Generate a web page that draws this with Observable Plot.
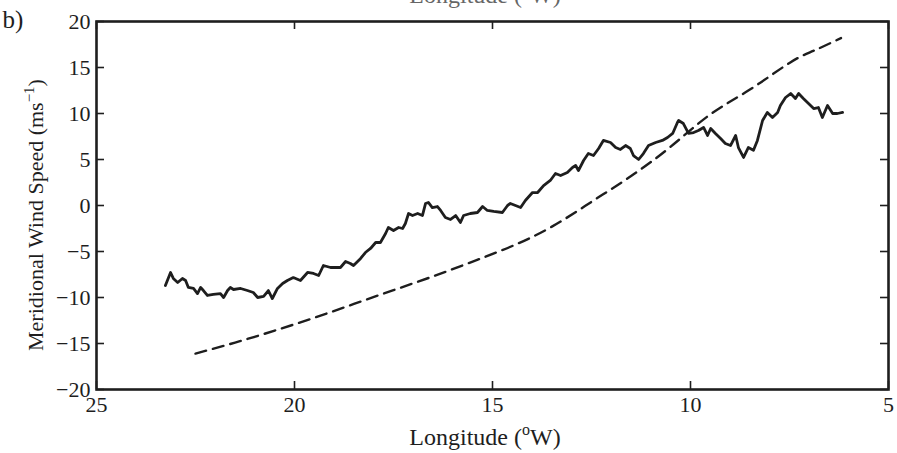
<!DOCTYPE html>
<html>
<head>
<meta charset="utf-8">
<script src="https://cdn.jsdelivr.net/npm/d3@7"></script>
<script src="https://cdn.jsdelivr.net/npm/@observablehq/plot@0.6"></script>
<style>
  html, body { margin: 0; padding: 0; background: #fff; overflow: hidden; }
  #chart svg { display: block; }
</style>
</head>
<body>
<div id="chart"></div>
<script>
// Observed meridional wind (solid line): longitude (°W) and wind speed (m/s)
const solidLon = [23.26,23.13,23.06,22.95,22.83,22.75,22.68,22.55,22.45,22.37,22.30,22.20,22.05,21.87,21.79,21.69,21.62,21.54,21.36,21.19,21.04,20.93,20.78,20.66,20.56,20.43,20.30,20.18,20.03,19.85,19.67,19.52,19.39,19.27,19.09,18.84,
  18.71,18.59,18.51,18.33,18.21,18.08,17.95,17.83,17.70,17.63,17.50,17.37,17.27,17.20,17.12,17.02,16.89,16.77,16.69,16.62,16.52,16.39,16.31,16.19,16.06,15.93,15.81,15.73,15.56,15.38,15.25,15.13,14.97,14.75,14.62,
  14.55,14.29,14.17,13.99,13.86,13.71,13.54,13.41,13.28,13.11,12.98,12.90,12.83,12.70,12.58,12.45,12.32,12.20,12.02,11.89,11.77,11.64,11.52,11.44,11.31,11.19,11.06,10.88,10.71,10.58,10.45,10.33,
  10.30,10.18,10.05,9.92,9.80,9.67,9.57,9.49,9.37,9.24,9.12,8.99,8.86,8.79,8.66,8.54,8.41,8.31,8.18,8.06,7.93,7.80,7.73,7.60,7.47,7.35,7.27,7.15,7.02,6.89,6.77,6.67,6.54,6.41,6.29,6.16];
const solidWind = [-8.70,-7.28,-7.93,-8.37,-7.93,-8.15,-8.91,-9.02,-9.57,-8.91,-9.24,-9.78,-9.67,-9.57,-10.0,-9.24,-8.91,-9.13,-9.02,-9.24,-9.46,-10.0,-9.89,-9.24,-10.11,-9.02,-8.48,-8.15,-7.83,-8.15,-7.28,-7.39,-7.61,-6.52,-6.74,-6.74,
  -6.09,-6.30,-6.52,-5.76,-5.11,-4.67,-4.02,-4.02,-3.04,-2.39,-2.72,-2.39,-2.50,-1.96,-0.87,-1.09,-0.87,-1.09,0.22,0.33,-0.22,-0.11,-0.54,-1.30,-1.52,-1.09,-1.85,-1.09,-0.87,-0.76,-0.11,-0.54,-0.65,-0.76,0.0,
  0.22,-0.22,0.54,1.41,1.41,2.17,2.72,3.48,3.26,3.59,4.13,4.35,3.80,4.89,5.65,5.43,6.20,7.07,6.85,6.30,6.09,6.52,6.20,5.43,5.0,5.65,6.52,6.85,7.07,7.39,7.83,9.02,
  9.24,8.91,7.83,7.93,8.15,8.48,7.61,8.37,7.83,7.28,6.74,6.52,7.61,6.30,5.22,6.30,6.0,7.07,9.24,10.11,9.57,10.11,10.87,11.74,12.17,11.63,12.17,11.63,11.09,10.54,10.65,9.57,10.87,10.0,10.0,10.11];

// Model meridional wind (dashed line)
const dashLon  = [22.5, 21.5, 20.5, 19.5, 18.5, 17.5, 16.5, 15.5, 14.5, 13.5, 12.5, 11.5, 10.5, 9.5, 8.5, 7.5, 6.9, 6.2];
const dashWind = [-16.1, -14.9, -13.6, -12.2, -10.7, -9.2, -7.7, -6.1, -4.4, -2.3, 0.4, 3.2, 6.4, 9.9, 12.6, 15.5, 16.8, 18.2];

const xTicks = [25, 20, 15, 10, 5];
const yTicks = [-20, -15, -10, -5, 0, 5, 10, 15, 20];

const solid = solidLon.map((lon, i) => ({lon, v: solidWind[i]}));
const dashed = dashLon.map((lon, i) => ({lon, v: dashWind[i]}));

const W = 897, H = 453;
const mL = 96, mR = 9, mT = 21, mB = 64;
const fw = W - mL - mR, fh = H - mT - mB;
const tk = 8;
const ink = "#1e1e1e";
const ff = "'Liberation Serif', 'DejaVu Serif', serif";

const plot = Plot.plot({
  width: W,
  height: H,
  marginLeft: mL, marginRight: mR, marginTop: mT, marginBottom: mB,
  style: {fontFamily: ff, fontSize: "22px", color: ink, background: "#fff"},
  x: {domain: [25, 5], label: null},
  y: {domain: [-20, 20], label: null},
  marks: [
    Plot.line(dashed, {x: "lon", y: "v", curve: "natural", stroke: ink, strokeWidth: 2.4, strokeDasharray: "11,7"}),
    Plot.line(solid, {x: "lon", y: "v", stroke: ink, strokeWidth: 2.8, strokeLinejoin: "round"}),
    // inward ticks on all four sides
    Plot.tickX(xTicks, {x: d => d, insetTop: fh - tk, stroke: ink, strokeWidth: 1.6}),
    Plot.tickX(xTicks, {x: d => d, insetBottom: fh - tk, stroke: ink, strokeWidth: 1.6}),
    Plot.tickY(yTicks, {y: d => d, insetRight: fw - tk, stroke: ink, strokeWidth: 1.6}),
    Plot.tickY(yTicks, {y: d => d, insetLeft: fw - tk, stroke: ink, strokeWidth: 1.6}),
    Plot.axisX(xTicks, {tickSize: 0, tickPadding: 7, fontSize: 22, label: null, fill: ink}),
    Plot.axisY(yTicks, {tickSize: 0, tickPadding: 6, fontSize: 22, label: null, fill: ink}),
    Plot.frame({stroke: ink, strokeWidth: 2.6})
  ]
});

document.getElementById("chart").appendChild(plot);

// Axis titles with superscripts, and panel label
const svg = d3.select(plot);

function xTitle(y) {
  const t = svg.append("text")
    .attr("x", 485).attr("y", y)
    .attr("text-anchor", "middle")
    .attr("font-family", ff).attr("font-size", 24).attr("fill", ink);
  t.append("tspan").text("Longitude (");
  t.append("tspan").attr("dy", -10).attr("font-size", 16).text("o");
  t.append("tspan").attr("dy", 10).text("W)");
  return t;
}
xTitle(445);
xTitle(3).attr("fill", "#666");

const yt = svg.append("text")
  .attr("transform", `translate(${43},${mT + fh / 2 + 10}) rotate(-90)`)
  .attr("text-anchor", "middle")
  .attr("font-family", ff).attr("font-size", 22).attr("fill", ink);
yt.append("tspan").text("Meridional Wind Speed (ms");
yt.append("tspan").attr("dy", -9).attr("font-size", 15).text("\u22121");
yt.append("tspan").attr("dy", 9).text(")");

svg.append("text")
  .attr("x", 13).attr("y", 28)
  .attr("font-family", ff).attr("font-size", 25).attr("fill", ink)
  .text("b)");
</script>
</body>
</html>
